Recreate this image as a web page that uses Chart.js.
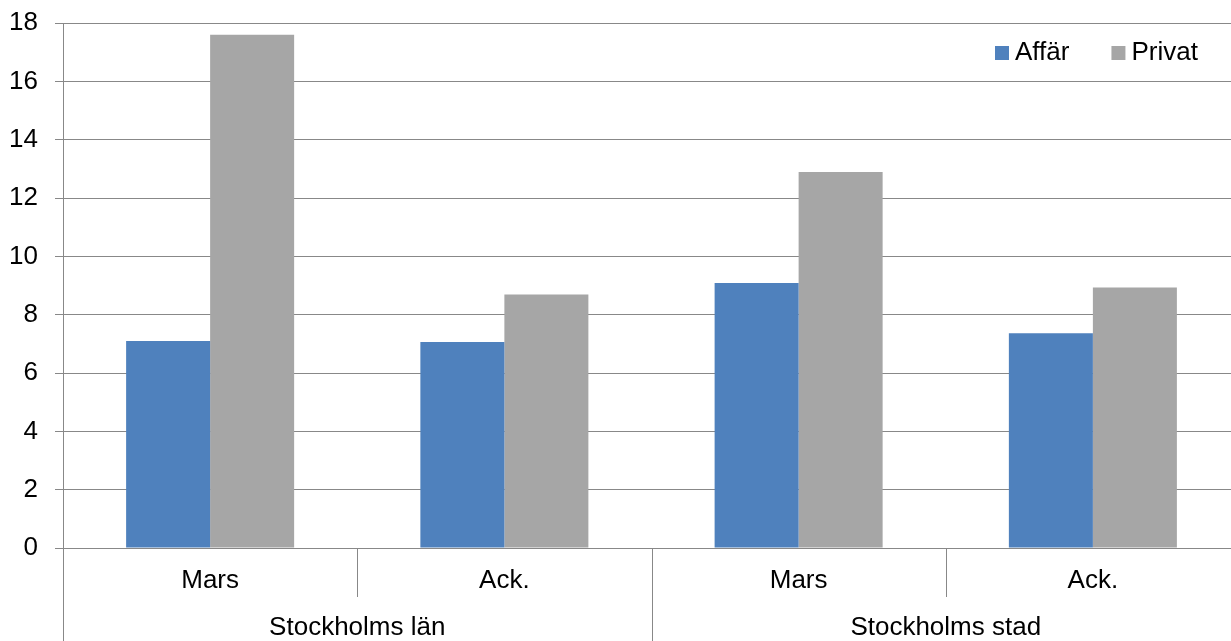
<!DOCTYPE html>
<html lang="sv">
<head>
  <meta charset="UTF-8" />
  <title>Affär och privat</title>
  <script src="https://cdn.jsdelivr.net/npm/chart.js"></script>
  <style>
    body {
      margin: 0;
      background: #fff;
      overflow: hidden;
    }
    /* plot runs a few pixels past the right edge, like the original */
    #wrap {
      width: 1240px;
      height: 641px;
    }
  </style>
</head>
<body>
  <div id="wrap"><canvas id="chart"></canvas></div>

  <script>
    // data
    const periods = ['Mars', 'Ack.', 'Mars', 'Ack.'];
    const regions = ['Stockholms län', 'Stockholms län', 'Stockholms stad', 'Stockholms stad'];
    const affar = [7.1, 7.06, 9.09, 7.36];
    const privat = [17.6, 8.69, 12.89, 8.93];
    const seriesNames = ['Affär', 'Privat'];
    const yTicks = [0, 2, 4, 6, 8, 10, 12, 14, 16, 18];

    const FONT = { family: "'Liberation Sans', Arial, sans-serif", size: 26 };
    const LINE = '#888888';

    // second row of the category axis + divider lines
    const groupAxis = {
      id: 'groupAxis',
      afterDraw(chart) {
        const ctx = chart.ctx;
        const x = chart.scales.x;
        const area = chart.chartArea;
        const n = periods.length;
        const bound = i => {
          if (i === 0) return x.left;
          if (i === n) return x.right;
          return (x.getPixelForValue(i - 1) + x.getPixelForValue(i)) / 2;
        };
        ctx.save();
        ctx.strokeStyle = LINE;
        ctx.lineWidth = 1;
        for (let i = 0; i < n; i++) {
          const newGroup = i === 0 || regions[i] !== regions[i - 1];
          const px = Math.round(bound(i)) + 0.5;
          ctx.beginPath();
          ctx.moveTo(px, area.bottom);
          ctx.lineTo(px, newGroup ? chart.height : area.bottom + 49);
          ctx.stroke();
        }
        ctx.fillStyle = '#000';
        ctx.font = FONT.size + 'px ' + FONT.family;
        ctx.textAlign = 'center';
        ctx.textBaseline = 'middle';
        let start = 0;
        for (let i = 1; i <= n; i++) {
          if (i === n || regions[i] !== regions[start]) {
            ctx.fillText(regions[start], (bound(start) + bound(i)) / 2, area.bottom + 80);
            start = i;
          }
        }
        ctx.restore();
      }
    };

    // legend inside the plot, top right
    const innerLegend = {
      id: 'innerLegend',
      afterDraw(chart) {
        const ctx = chart.ctx;
        const area = chart.chartArea;
        ctx.save();
        ctx.font = FONT.size + 'px ' + FONT.family;
        ctx.textBaseline = 'middle';
        ctx.textAlign = 'left';
        const cy = area.top + 30;
        let px = area.left + 932;
        chart.data.datasets.forEach(ds => {
          ctx.fillStyle = ds.backgroundColor;
          ctx.fillRect(px, cy - 7, 14, 14);
          ctx.fillStyle = '#000';
          ctx.fillText(ds.label, px + 20, cy);
          px += 20 + ctx.measureText(ds.label).width + 42;
        });
        ctx.restore();
      }
    };

    new Chart(document.getElementById('chart'), {
      type: 'bar',
      data: {
        labels: periods,
        datasets: [
          { label: seriesNames[0], data: affar, backgroundColor: '#4F81BD' },
          { label: seriesNames[1], data: privat, backgroundColor: '#A6A6A6' }
        ]
      },
      options: {
        responsive: true,
        maintainAspectRatio: false,
        animation: false,
        datasets: {
          bar: { categoryPercentage: 0.571, barPercentage: 1.0 }
        },
        layout: { padding: { left: 0, top: 23, right: 0, bottom: 0 } },
        plugins: {
          legend: { display: false },
          tooltip: { enabled: false }
        },
        scales: {
          x: {
            afterFit: axis => { axis.height = 93; axis.paddingLeft = 0; axis.paddingRight = 0; },
            grid: { display: false },
            border: { display: true, color: LINE, width: 1 },
            ticks: { color: '#000', font: FONT, padding: 9 }
          },
          y: {
            min: 0,
            max: 18,
            afterFit: axis => { axis.width = 63; axis.paddingTop = 0; axis.paddingBottom = 0; },
            afterBuildTicks: axis => { axis.ticks = yTicks.map(v => ({ value: v })); },
            grid: { color: LINE, lineWidth: 1, tickLength: 8 },
            border: { display: true, color: LINE, width: 1 },
            ticks: { color: '#000', font: FONT, padding: 17 }
          }
        }
      },
      plugins: [groupAxis, innerLegend]
    });
  </script>
</body>
</html>
